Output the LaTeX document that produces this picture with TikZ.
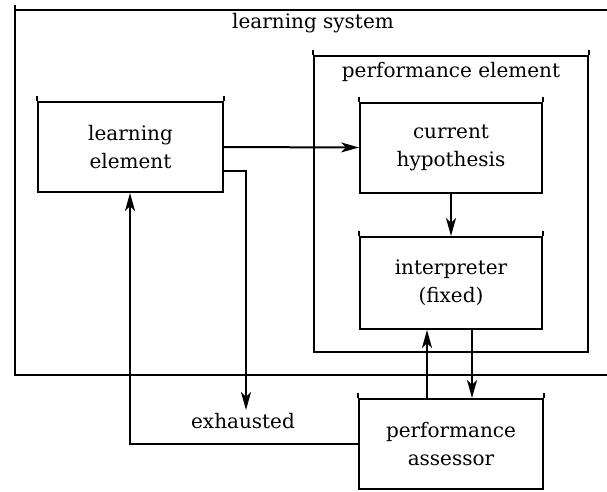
\documentclass[tikz,border=0pt]{standalone}
\usepackage{fontspec}
\setmainfont{DejaVu Serif}
\usetikzlibrary{arrows.meta}
\begin{document}
\begin{tikzpicture}[x=1pt,y=-1pt,
  line width=2pt,
  every node/.style={font=\fontsize{20}{28}\selectfont, align=center},
  unitbox/.style={draw, inner sep=0pt, minimum width=183pt, minimum height=90pt},
  flow/.style={-{Stealth[length=18pt,width=10pt,inset=5pt]}},
  tick/.style={line width=2pt}]
\useasboundingbox (0,0) rectangle (607,491);

% outer frame of the learning system (open on the right)
\coordinate (lsTL) at (15,10);
\coordinate (lsBL) at (15,375);
\draw (607,10) -- (lsTL) -- (lsBL) -- (607,375);
\draw[tick] (lsTL) -- ++(0,-5);
\node (lslabel) at (313,23) {learning system};

% performance element frame
\node[draw, inner sep=0pt, minimum width=274pt, minimum height=296pt] (pe) at (451,204) {};
\draw[tick] (pe.north west) -- ++(0,-5);
\draw[tick] (pe.north east) -- ++(0,-5);
\node (pelabel) at (451,72) {performance element};

% component boxes
\node[unitbox, minimum width=185pt] (le) at (130.5,147) {learning\\element};
\node[unitbox, minimum width=182pt] (ch) at (451,147.5) {current\\hypothesis};
\node[unitbox, minimum width=182pt, minimum height=92pt] (ip) at (451,283) {interpreter\\(fixed)};
\node[unitbox, minimum width=184pt] (pa) at (451,444) {performance\\assessor};
\node[inner sep=0pt, anchor=north] (ex) at (243,412) {\vphantom{h}exhausted};

\foreach \n in {le,ch,ip,pa}{
  \draw[tick] (\n.north west) -- ++(0,-5);
  \draw[tick] (\n.north east) -- ++(0,-5);
}

% connectors
\draw[flow] (le.east) -- (ch.west);
\draw[flow] (le.east |- 0,171) -- (246,171) -- (246,410);
\draw[flow] (ch.south) -- (ip.north);
\draw[flow] (pa.north -| 427,0) -- (ip.south -| 427,0);
\draw[flow] (ip.south -| 472,0) -- (pa.north -| 472,0);
\draw[flow] (pa.west) -- (130,444) -- (le.south -| 130,0);
\end{tikzpicture}
\end{document}
